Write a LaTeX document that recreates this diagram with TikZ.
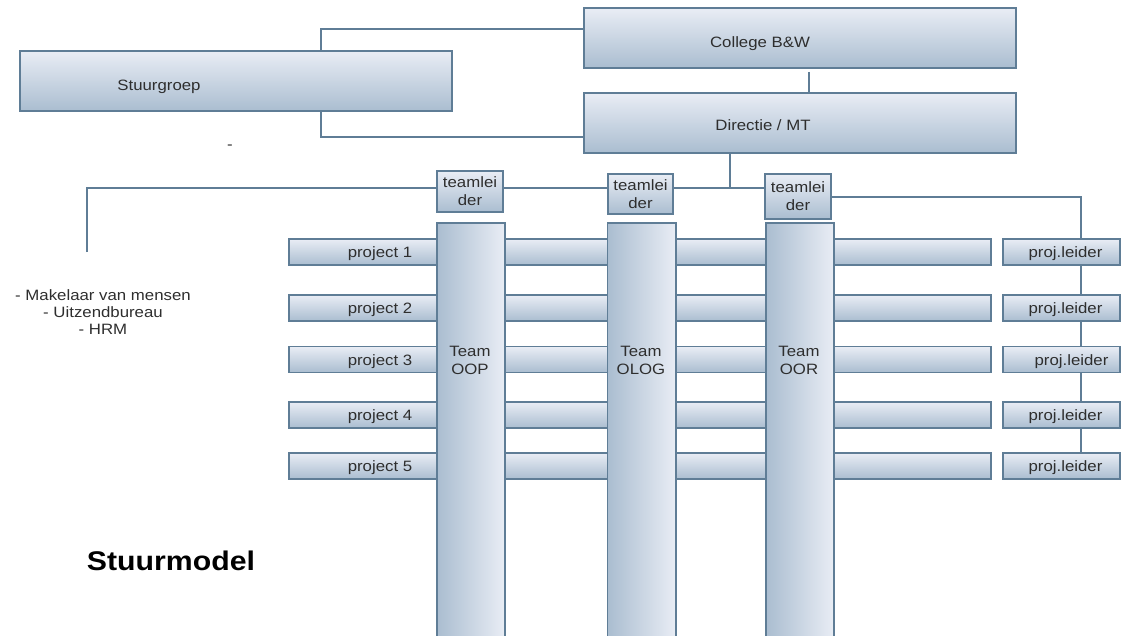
\documentclass[tikz,border=0pt]{standalone}
\usepackage{fontspec}
\setmainfont{Liberation Sans}[FakeStretch=1.12]
\usetikzlibrary{calc}
\definecolor{edge}{HTML}{5F7D96}
\definecolor{boxtop}{HTML}{E9EDF5}
\definecolor{boxbot}{HTML}{AABDD0}
\definecolor{ink}{HTML}{2E2E2E}
\begin{document}
\begin{tikzpicture}[x=1pt,y=-1pt,
  box/.style={draw=edge,line width=1.1pt,top color=boxtop,bottom color=boxbot,
    inner sep=0pt,outer sep=0pt},
  column/.style={draw=edge,line width=1.1pt,left color=boxbot,right color=boxtop,
    inner sep=0pt,outer sep=0pt},
  txt/.style={text=ink,font=\fontsize{15}{18}\selectfont,align=center,inner sep=0pt},
  label/.style={txt,yshift=-2pt},
  link/.style={draw=edge,line width=1.1pt}]
\useasboundingbox (0,0) rectangle (1131,636);
\clip (0,0) rectangle (1131,636);

% top level
\node[box,minimum width=432pt,minimum height=60pt] (stuur) at (236,81) {};
\node[box,minimum width=432pt,minimum height=60pt] (college) at (800,38) {};
\node[box,minimum width=432pt,minimum height=60pt] (directie) at (800,123) {};
\node[label] (stuurtxt) at (159,85) {Stuurgroep};
\node[label] (collegetxt) at (760,42) {College B\&W};
\node[label] (directietxt) at (763,123) {Directie / MT};
\node[label] (dash) at (230,145) {-};

\draw[link] ($(stuur.north west)+(301,0)$) |- ($(college.north west)+(0,21)$);
\draw[link] ($(stuur.south west)+(301,0)$) |- ($(directie.north west)+(0,44)$);
\draw[link] ($(college.south)+(9,4)$) -- ($(directie.north)+(9,0)$);

% project bars (behind the team columns)
\foreach \i/\y in {1/252,2/308,3/359.5,4/415,5/466}{
  \node[box,minimum width=702pt,minimum height=26pt] (proj\i) at (640,\y) {};
  \node[box,minimum width=117pt,minimum height=26pt] (pl\i) at (1061.5,\y) {};
}

% team leaders
\node[box,minimum width=66pt,minimum height=41pt] (tl1) at (470,191.5) {};
\node[box,minimum width=65pt,minimum height=40pt] (tl2) at (640.5,194) {};
\node[box,minimum width=66pt,minimum height=45pt] (tl3) at (798,196.5) {};
\foreach \k in {1,2,3}{
  \node[txt] at (tl\k) {teamlei\\der};
}

% team columns
\node[column,anchor=north,minimum width=68pt,minimum height=430pt] (oop) at (471,223) {};
\node[column,anchor=north,minimum width=68.5pt,minimum height=430pt] (olog) at (641.75,223) {};
\node[column,anchor=north,minimum width=68pt,minimum height=430pt] (oor) at (800,223) {};
\node[txt] (ooptxt) at (470,360) {Team\\OOP};
\node[txt] (ologtxt) at (641,360) {Team\\OLOG};
\node[txt] (oortxt) at (799,360) {Team\\OOR};

% labels of the projects and project leaders
\foreach \i/\y in {1/252,2/308,3/359.5,4/415,5/466}{
  \node[label] (projtxt\i) at (380,\y) {project \i};
}
\foreach \i/\dx in {1/4,2/4,3/10,4/4,5/4}{
  \node[label] (pltxt\i) at ($(pl\i.center)+(\dx,0)$) {proj.leider};
}

% team leader line
\coordinate (bus) at (730,188);
\coordinate (lend) at (87,252);
\coordinate (plx) at (1081,197);
\draw[link] (lend) |- (tl1.west |- bus);
\draw[link] (tl1.east |- bus) -- (tl2.west |- bus);
\draw[link] (tl2.east |- bus) -- (tl3.west |- bus);
\draw[link] (directie.south -| bus) -- (bus);
\draw[link] (tl3.east |- plx) -| (pl1.north -| plx);
\foreach \a/\b in {1/2,2/3,3/4,4/5}{
  \draw[link] (pl\a.south -| plx) -- (pl\b.north -| plx);
}

% side notes
\node[txt,font=\fontsize{15}{17}\selectfont] (notes) at (103,312)
  {- Makelaar van mensen\\- Uitzendbureau\\- HRM};
\node[text=black,font=\fontsize{27}{30}\selectfont\bfseries,inner sep=0pt,anchor=base]
  (title) at (171,570) {Stuurmodel};
\end{tikzpicture}
\end{document}
